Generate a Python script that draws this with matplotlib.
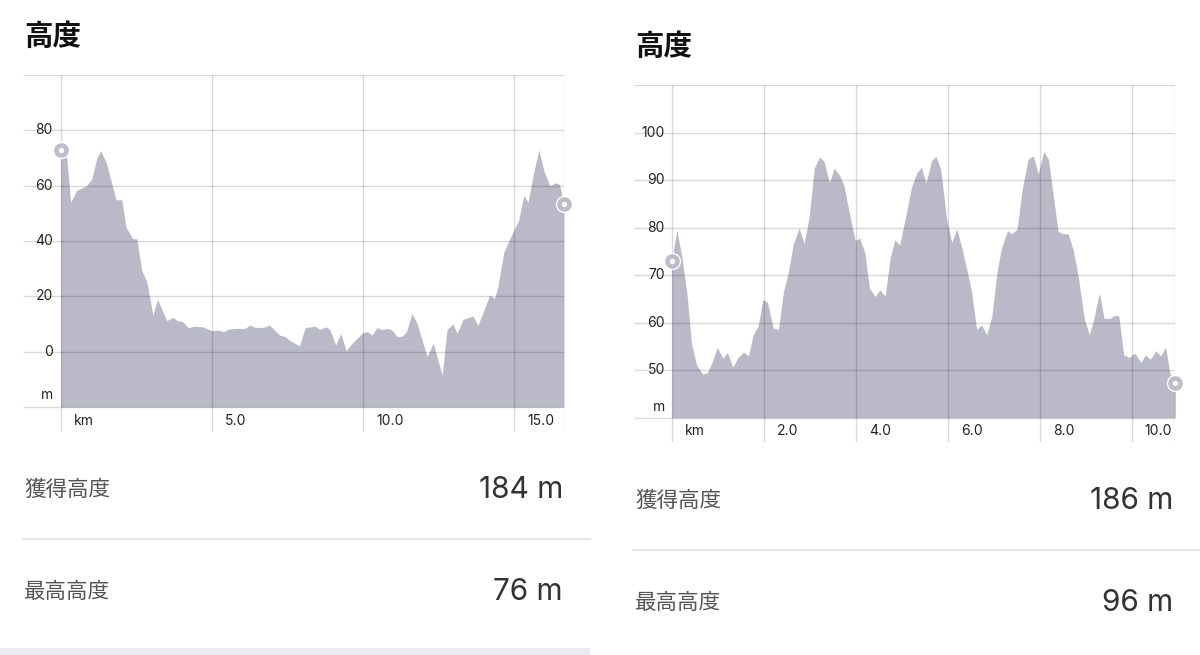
import matplotlib
matplotlib.use("Agg")
import matplotlib.pyplot as plt
from matplotlib.lines import Line2D
from matplotlib.patches import Rectangle

# ---------------- data ----------------
title = "高度"
stat_labels = ["獲得高度", "最高高度"]

left_km = [0, 0.2, 0.33, 0.53, 0.86, 1.03, 1.19, 1.32, 1.52, 1.83, 2.02, 2.16, 2.38, 2.52, 2.68,
           2.85, 3.05, 3.2, 3.51, 3.71, 3.84, 4.04, 4.23, 4.39, 4.7, 5.0, 5.22, 5.39, 5.55, 5.83,
           6.1, 6.25, 6.43, 6.71, 6.9, 7.24, 7.43, 7.59, 7.9, 8.09, 8.42, 8.57, 8.77, 8.9, 9.1,
           9.27, 9.44, 9.69, 10.0, 10.15, 10.3, 10.46, 10.63, 10.82, 10.96, 11.13, 11.3, 11.44,
           11.62, 11.79, 12.12, 12.32, 12.62, 12.78, 12.98, 13.11, 13.31, 13.64, 13.8, 14.19,
           14.35, 14.46, 14.66, 14.88, 15.15, 15.32, 15.46, 15.65, 15.82, 15.98, 16.18, 16.36,
           16.5, 16.65]
left_elev = [73, 70, 54, 58.3, 60, 62.5, 69.7, 72.7, 67.9, 54.9, 54.9, 45, 40.9, 40.7, 29.4,
             25.2, 13.2, 18.9, 11.2, 12.4, 11.3, 10.8, 8.6, 9.2, 9.0, 7.6, 7.8, 7.2, 8.2, 8.4,
             8.4, 9.6, 8.8, 8.8, 9.6, 6.0, 5.4, 4.0, 2.1, 8.7, 9.2, 8.0, 9.0, 8.0, 2.4,
             6.6, 0.4, 3.6, 6.9, 7.2, 6.0, 8.7, 8.0, 8.4, 7.8, 5.4, 5.6, 7.2,
             13.8, 10.2, -1.8, 3.0, -8.4, 8.0, 10.0, 6.6, 11.7, 12.9, 9.4, 20.4,
             19.2, 23.4, 36.0, 41.4, 47.5, 56.5, 54, 64.9, 72.9, 65.5, 60, 61,
             60.5, 53.2]
left_yticks = [0, 20, 40, 60, 80]
left_xticks = [5, 10, 15]
left_gain = "184 m"
left_max = "76 m"

right_km = [0, 0.11, 0.22, 0.33, 0.43, 0.54, 0.67, 0.77, 0.87, 0.99, 1.11, 1.21, 1.33, 1.43,
            1.56, 1.67, 1.77, 1.88, 1.98, 2.08, 2.21, 2.32, 2.43, 2.54, 2.64, 2.77, 2.88, 2.99,
            3.1, 3.21, 3.31, 3.43, 3.53, 3.65, 3.75, 3.86, 3.99, 4.09, 4.2, 4.3, 4.42, 4.53,
            4.64, 4.75, 4.85, 4.96, 5.1, 5.22, 5.33, 5.43, 5.53, 5.65, 5.75, 5.85, 5.98, 6.09,
            6.2, 6.3, 6.41, 6.52, 6.63, 6.74, 6.85, 6.96, 7.08, 7.17, 7.3, 7.4, 7.51, 7.62,
            7.75, 7.86, 7.97, 8.09, 8.19, 8.28, 8.4, 8.51, 8.62, 8.73, 8.84, 8.97, 9.08, 9.19,
            9.3, 9.4, 9.53, 9.64, 9.72, 9.83, 9.95, 10.07, 10.2, 10.3, 10.41, 10.53, 10.63,
            10.74, 10.83, 10.95]
right_elev = [73, 79.5, 73.9, 66.2, 55.7, 51.1, 49.2, 49.4, 51.5, 54.8, 52.5, 53.7, 50.6, 52.5,
              53.8, 53.0, 57.4, 59.3, 64.8, 64.3, 58.8, 58.6, 66.5, 70.8, 76.4, 79.9, 76.7, 82.3,
              92.5, 94.8, 94.0, 89.4, 92.5, 91.0, 88.7, 83.1, 77.3, 77.8, 74.6, 67.3, 65.5, 66.9,
              65.6, 73.6, 77.4, 76.4, 83.0, 88.7, 91.5, 92.7, 89.4, 94.1, 95.0, 92.2, 81.6, 76.9,
              79.7, 76.0, 71.5, 66.5, 58.6, 59.5, 57.4, 61.3, 71.1, 75.7, 79.3, 78.7, 79.7, 88.0,
              94.4, 95.1, 91.3, 96.0, 94.4, 88.0, 79.2, 78.7, 78.7, 75.3, 69.7, 60.9, 57.4, 61.3,
              66.3, 60.9, 60.9, 61.6, 61.4, 53.2, 52.7, 53.6, 51.6, 53.2, 52.3, 54.1, 53.0,
              54.8, 49.4, 47.4]
right_yticks = [50, 60, 70, 80, 90, 100]
right_xticks = [2, 4, 6, 8, 10]
right_gain = "186 m"
right_max = "96 m"

# ---------------- style ----------------
W, H = 1200, 655
FILL = "#b9b9c7"
GRID = (0, 0, 0, 0.15)
TXT = "#222222"
SEP = "#e5e5ea"
NUMFONT = ["Inter", "Noto Sans CJK JP", "DejaVu Sans"]
JPFONT = ["Noto Sans CJK JP", "DejaVu Sans"]

fig = plt.figure(figsize=(W / 100, H / 100), dpi=100)
fig.patch.set_facecolor("white")


def fx(px):
    return px / W


def fy(py):
    return 1 - py / H


def panel(km, elev, yticks, xticks, ytop, ybase,
          x_left, x_zero, x_right, y_top, y_axis_bottom, y_bottom, y_label_x,
          title_xy, stats_x, stats_right, stats_y, sep_y, sep_x, values, m_val):
    ax = fig.add_axes([fx(x_left), fy(y_bottom), fx(x_right - x_left), (y_bottom - y_top) / H])
    kmax = km[-1]
    pxkm = (x_right - x_zero) / kmax
    pxunit = (y_axis_bottom - y_top) / (ytop - ybase)
    xlo = -(x_zero - x_left) / pxkm
    ylo = ybase - (y_bottom - y_axis_bottom) / pxunit
    ax.set_xlim(xlo, kmax)
    ax.set_ylim(ylo, ytop)
    ax.axis("off")

    ax.fill_between(km, elev, ybase, color=FILL, linewidth=0, zorder=1)

    # horizontal grid lines
    hlines = [ybase] + list(yticks) + [ytop]
    for v in sorted(set(hlines)):
        ax.plot([xlo, kmax], [v, v], color=GRID, lw=1.0, zorder=2, solid_capstyle="butt")
    # vertical grid lines
    for v in [0] + list(xticks) + [kmax]:
        ax.plot([v, v], [ylo, ytop], color=GRID, lw=1.0, zorder=2, solid_capstyle="butt")

    # y labels
    lx = -(x_zero - y_label_x) / pxkm
    for v in yticks:
        ax.text(lx, v, f"{v}", ha="right", va="center", fontsize=10, color=TXT,
                family=NUMFONT, zorder=5)
    ax.text(lx, m_val, "m", ha="right", va="center", fontsize=10, color=TXT,
            family=NUMFONT, zorder=5)
    # x labels
    off = 13 / pxkm
    xl_y = ylo + (y_bottom - y_axis_bottom) / pxunit * 0.5 - 1.5 / pxunit
    ax.text(off, xl_y, "km", ha="left", va="center", fontsize=10, color=TXT,
            family=NUMFONT, zorder=5)
    for v in xticks:
        ax.text(v + off, xl_y, f"{v:.1f}", ha="left", va="center", fontsize=10,
                color=TXT, family=NUMFONT, zorder=5)

    # end markers
    for i in (0, -1):
        ax.plot([km[i]], [elev[i]], marker="o", ms=12.5, mfc="white", mec="white",
                mew=0, zorder=6, clip_on=False)
        ax.plot([km[i]], [elev[i]], marker="o", ms=7.2, mfc="white", mec="#bdbdc9",
                mew=3.3, zorder=7, clip_on=False)

    # title
    fig.text(fx(title_xy[0]), fy(title_xy[1]), title, ha="left", va="center",
             fontsize=20.5, fontweight="bold", color="#111111", family=JPFONT)
    # stats
    for lab, val, yy in zip(stat_labels, values, stats_y):
        fig.text(fx(stats_x), fy(yy), lab, ha="left", va="center", fontsize=15.5,
                 color="#555555", family=JPFONT)
        fig.text(fx(stats_right), fy(yy), val, ha="right", va="center", fontsize=21.5,
                 color="#333333", family=NUMFONT)
    fig.add_artist(Line2D([fx(sep_x[0]), fx(sep_x[1])], [fy(sep_y), fy(sep_y)],
                          color=SEP, lw=1.6, transform=fig.transFigure))
    return ax


panel(left_km, left_elev, left_yticks, left_xticks, 100, -20,
      x_left=23, x_zero=60.7, x_right=564, y_top=75, y_axis_bottom=407, y_bottom=432,
      y_label_x=53, title_xy=(24, 37), stats_x=24, stats_right=563,
      stats_y=(490, 592.5), sep_y=539, sep_x=(23, 590), values=(left_gain, left_max),
      m_val=-15.6)

panel(right_km, right_elev, right_yticks, right_xticks, 110, 40,
      x_left=634, x_zero=671.7, x_right=1175.3, y_top=85, y_axis_bottom=417.7, y_bottom=442,
      y_label_x=665, title_xy=(635, 47), stats_x=635, stats_right=1173,
      stats_y=(501, 603), sep_y=550, sep_x=(633, 1200), values=(right_gain, right_max),
      m_val=42.3)

# bottom grey band under left panel
fig.add_artist(Rectangle((0, 0), fx(590), 7 / H, transform=fig.transFigure,
                         facecolor="#ebebf0", edgecolor="none"))

fig.savefig("out.png", dpi=100, facecolor="white")
